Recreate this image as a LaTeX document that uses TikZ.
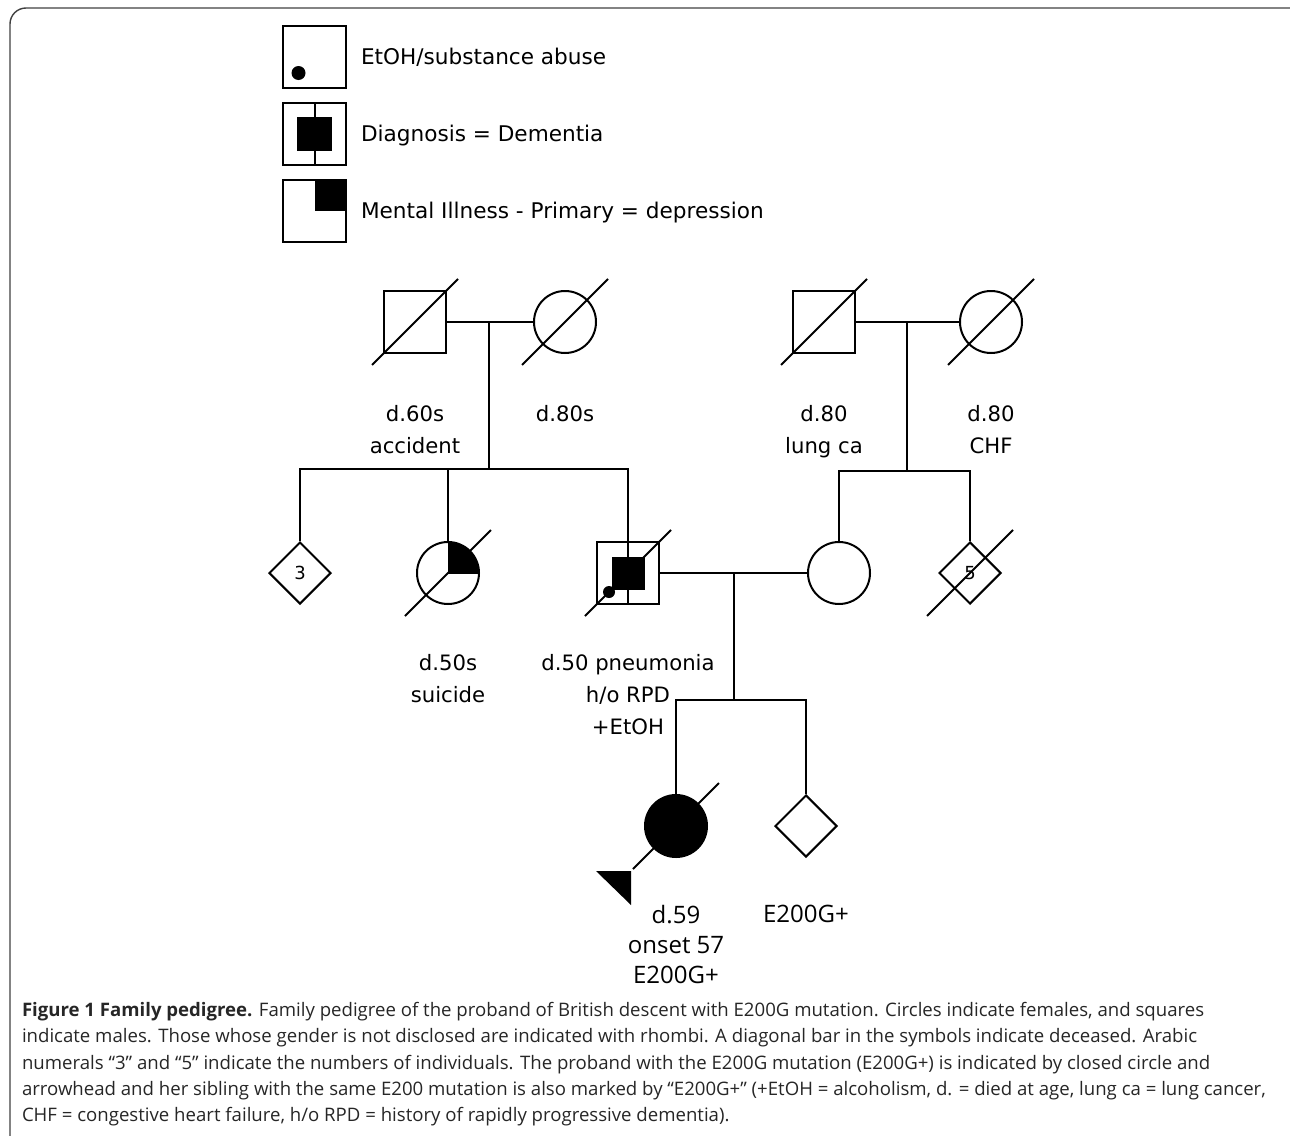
\documentclass[tikz,border=0pt]{standalone}
\usepackage{fontspec}
\newfontfamily\pedfont{DejaVu Sans}
\newfontfamily\capfont{Open Sans}
\usetikzlibrary{positioning, shapes.geometric}

\newcommand\deceased[1]{\draw (#1.center) ++(-43,43) -- ++(86,-86);}

\begin{document}
\begin{tikzpicture}[
    x=0.5pt, y=-0.5pt, line width=1pt,
    male/.style={draw, rectangle, minimum size=31pt, inner sep=0pt},
    female/.style={draw, circle, minimum size=31pt, inner sep=0pt},
    rhomb/.style={draw, diamond, minimum size=31pt, inner sep=0pt, font=\pedfont\fontsize{9}{9}\selectfont},
    key/.style={draw, rectangle, minimum width=31.5pt, minimum height=31pt, inner sep=0pt},
    keytext/.style={inner sep=0pt, text height=7.6pt, text depth=0pt, font=\pedfont\fontsize{10.8}{12}\selectfont},
    lbl/.style={align=center, inner sep=0pt, font=\pedfont\fontsize{10.6}{16}\selectfont},
    plbl/.style={align=center, inner sep=0pt, font=\capfont\fontsize{12}{15}\selectfont}
  ]
    \useasboundingbox (0,0) rectangle (1290,1135);
    \draw[line width=0.7pt, rounded corners=8pt, black!75] (10,1140) -- (10,8) -- (1300,8);

    \node[key] (key1) at (314.5,57) {};
    \node[key, below=6.5pt of key1] (key2) {};
    \node[key, below=6.5pt of key2] (key3) {};
    \fill ([shift={(-16,16)}]key1.center) circle (3.5pt);
    \draw (key2.north) -- (key2.south);
    \fill (key2.center) ++(-17.5,-17) rectangle ++(35,34);
    \fill (key3.center) rectangle (key3.north east);
    \node[keytext, right=6.5pt of key1] (etoh) {EtOH/substance abuse};
    \node[keytext, right=6.5pt of key2] (dementia) {Diagnosis = Dementia};
    \node[keytext, right=6.5pt of key3] (depression) {Mental Illness - Primary = depression};

    \node[male] (I1) at (415,322) {};
    \node[female, right=43pt of I1] (I2) {};
    \node[male] (I3) at (824,322) {};
    \node[female, right=51.5pt of I3] (I4) {};

    \node[rhomb] (II1) at (300,573) {3};
    \node[female] (II2) at (448,573) {};
    \node[male] (II3) at (628,573) {};
    \node[female] (II4) at (839,573) {};
    \node[rhomb] (II5) at (970,573) {5};

    \node[female, fill] (III1) at (676,826) {};
    \node[rhomb] (III2) at (806,826) {};

    \coordinate (m1) at (489,322);
    \coordinate (s1) at (489,469);
    \coordinate (m2) at (907,322);
    \coordinate (s2) at (907,471);
    \coordinate (m3) at (734,573);
    \coordinate (s3) at (734,700);

    \draw (I1) -- (I2);
    \draw (I3) -- (I4);
    \draw (II3) -- (II4);
    \draw (m1) -- (s1);
    \draw (m2) -- (s2);
    \draw (m3) -- (s3);
    \draw (II1) |- (s1) -| (II3);
    \draw (II2) -- (II2 |- s1);
    \draw (II4) |- (s2) -| (II5);
    \draw (III1) |- (s3) -| (III2);

    \begin{scope}
      \clip (II2.center) rectangle ([shift={(40,-40)}]II2.center);
      \fill (II2.center) circle (15.5pt);
    \end{scope}
    \draw (II3.north) -- (II3.south);
    \fill (II3.center) ++(-16.5,-16.5) rectangle ++(33,33);
    \fill ([shift={(-19,19)}]II3.center) circle (3pt);
    \fill ([shift={(-80,45)}]III1.center) -- ++(35,0) -- ++(0,34) -- cycle;

    \deceased{I1} \deceased{I2} \deceased{I3} \deceased{I4}
    \deceased{II2} \deceased{II3} \deceased{II5} \deceased{III1}

    \node[lbl, below=25pt of I1] (I1lab) {d.60s\\accident};
    \node[lbl, below=25pt of I2] (I2lab) {d.80s};
    \node[lbl, below=25pt of I3] (I3lab) {d.80\\lung ca};
    \node[lbl, below=25pt of I4] (I4lab) {d.80\\CHF};
    \node[lbl, below=24pt of II2] (II2lab) {d.50s\\suicide};
    \node[lbl, below=24pt of II3] (II3lab) {d.50 pneumonia\\h/o RPD\\+EtOH};
    \node[plbl, below=23pt of III1] (III1lab) {d.59\\onset 57\\E200G+};
    \node[plbl, below=23pt of III2] (III2lab) {E200G+};

    \node[anchor=north west, align=left, inner sep=0pt, text=black!85,
      font=\capfont\fontsize{9.3}{13.2}\selectfont] (caption) at (21,1001)
      {{\bfseries Figure 1 Family pedigree.} Family pedigree of the proband of British descent with E200G mutation. Circles indicate females, and squares\\
       indicate males. Those whose gender is not disclosed are indicated with rhombi. A diagonal bar in the symbols indicate deceased. Arabic\\
       numerals “3” and “5” indicate the numbers of individuals. The proband with the E200G mutation (E200G+) is indicated by closed circle and\\
       arrowhead and her sibling with the same E200 mutation is also marked by “E200G+” (+EtOH = alcoholism, d. = died at age, lung ca = lung cancer,\\
       CHF = congestive heart failure, h/o RPD = history of rapidly progressive dementia).};
\end{tikzpicture}
\end{document}
